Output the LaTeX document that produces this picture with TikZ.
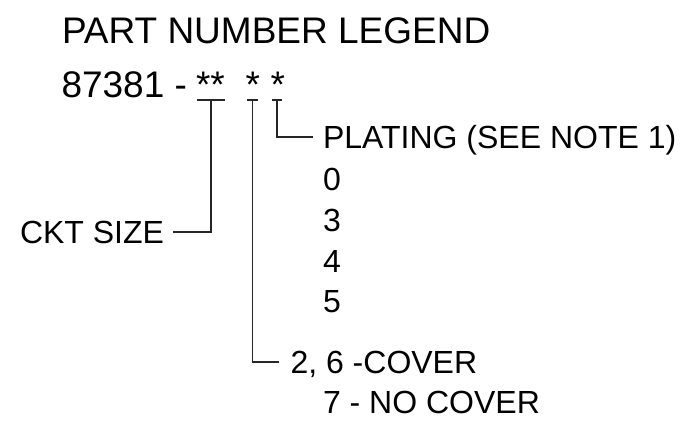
\documentclass[tikz,border=0pt]{standalone}
\usepackage{fontspec}
\setmainfont{Liberation Sans}
\begin{document}
\begin{tikzpicture}[x=1pt,y=-1pt,
  lbl/.style={anchor=base west,inner sep=0pt,outer sep=0pt,text=black},
  big/.style={lbl,font=\fontsize{37}{40}\selectfont},
  small/.style={lbl,font=\fontsize{32}{36}\selectfont},
  ln/.style={line width=1.1pt,black!85}]
\useasboundingbox[fill=white] (0,0) rectangle (700,428);
% texts
\node[big] (title) at (62,44) {PART NUMBER LEGEND};
\node[big] (pn) at (61.5,97) {87381 -};
\node[big] (s1) at (196,97) {**};
\node[big] (s2) at (245.5,97) {*};
\node[big] (s3) at (270.5,97) {*};
\node[small] (plating) at (323,148) {PLATING (SEE NOTE 1)};
\node[small] (p0) at (323,190) {0};
\node[small] (p3) at (323,231) {3};
\node[small] (p4) at (323,272) {4};
\node[small] (p5) at (323,312) {5};
\node[small] (cov) at (290.5,373) {2, 6 -COVER};
\node[small] (nocov) at (323,413) {7 - NO COVER};
\node[small] (ckt) at (20,243) {CKT SIZE};
% underline coordinates
\coordinate (u1a) at (197,100); \coordinate (u1b) at (225,100); \coordinate (m1) at (211,100);
\coordinate (u2a) at (247,100); \coordinate (u2b) at (258,100); \coordinate (m2) at (252.5,100);
\coordinate (u3a) at (272,100); \coordinate (u3b) at (282,100); \coordinate (m3) at (277,100);
\coordinate (e1) at (173,232);
\coordinate (e2) at (279,362);
\coordinate (e3) at (313,137);
% underlines
\draw[ln] (u1a) -- (u1b);
\draw[ln] (u2a) -- (u2b);
\draw[ln] (u3a) -- (u3b);
% leaders
\draw[ln] (m1) |- (e1);
\draw[ln] (m2) |- (e2);
\draw[ln] (m3) |- (e3);
\end{tikzpicture}
\end{document}
